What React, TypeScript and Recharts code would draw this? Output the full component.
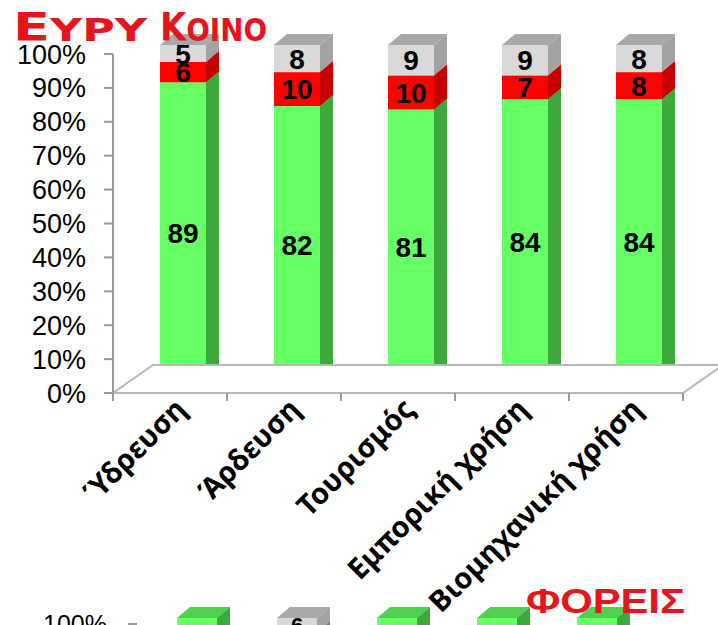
import { Bar, BarChart, LabelList, ReferenceLine, XAxis, YAxis } from 'recharts';

// Share of answers per water use, public survey (top chart)
const categories = ['Ύδρευση', 'Άρδευση', 'Τουρισμός', 'Εμπορική χρήση', 'Βιομηχανική χρήση'];
const greenVals = [89, 82, 81, 84, 84];
const redVals = [6, 10, 10, 7, 8];
const grayVals = [5, 8, 9, 9, 8];
const yTicks = [0, 10, 20, 30, 40, 50, 60, 70, 80, 90, 100];

// Second chart (organisations), cut off by the bottom edge: only the bar tops show
const greenVals2 = [100, 94, 100, 100, 100];
const redVals2 = [0, 0, 0, 0, 0];
const grayVals2 = [0, 6, 0, 0, 0];
const yTicks2 = [100];

const rows = categories.map((name, i) => ({
  name,
  green: greenVals[i],
  red: redVals[i],
  gray: grayVals[i],
}));
const rows2 = categories.map((name, i) => ({
  name,
  green: greenVals2[i],
  red: redVals2[i],
  gray: grayVals2[i],
}));

interface Face {
  front: string;
  side: string;
  top: string;
}
const GREEN: Face = { front: '#66ff66', side: '#3da93d', top: '#4fd14f' };
const RED: Face = { front: '#ff0000', side: '#c40000', top: '#e00000' };
const GRAY: Face = { front: '#d9d9d9', side: '#a3a3a3', top: '#a8a8a8' };

const AXIS = '#9a9a9a';
const W = 718;
const H = 625;

// chart 1 plot box
const LEFT = 113;
const RIGHT = 683;
const BAND = (RIGHT - LEFT) / categories.length;

// fake 3D box: front face shifted by (ox, oy), depth (dx, dy)
function box3d(c: Face, ox: number, oy: number, dx: number, dy: number) {
  return (p: any) => {
    const { x, y, width: w, height: h } = p;
    if (!h || h <= 0) return <g />;
    const fx = x + ox;
    const fy = y + oy;
    return (
      <g>
        <polygon
          points={`${fx},${fy} ${fx + dx},${fy - dy} ${fx + w + dx},${fy - dy} ${fx + w},${fy}`}
          fill={c.top}
        />
        <polygon
          points={`${fx + w},${fy} ${fx + w + dx},${fy - dy} ${fx + w + dx},${fy + h - dy} ${fx + w},${fy + h}`}
          fill={c.side}
        />
        <rect x={fx} y={fy} width={w} height={h} fill={c.front} />
      </g>
    );
  };
}

function valueLabel(ox: number, oy: number, size: number) {
  return (p: any) => {
    const { x, y, width, height, value } = p;
    if (!value) return null;
    return (
      <text
        x={x + ox + width / 2}
        y={y + oy + height / 2}
        dy="0.36em"
        textAnchor="middle"
        fontFamily="'Liberation Sans', Arial, sans-serif"
        fontWeight="bold"
        fontSize={size}
        fill="#000"
      >
        {value}
      </text>
    );
  };
}

function Floor(p: any) {
  const { x1, y1, x2, y2 } = p;
  return (
    <polygon
      points={`${x1},${y1} ${x2},${y2} ${x2 + 40},${y2 - 28} ${x1 + 40},${y1 - 28}`}
      fill="#ffffff"
      stroke="#b8b8b8"
      strokeWidth={2}
    />
  );
}

function CatTick(p: any) {
  const { x, y, payload, index } = p;
  return (
    <g>
      <line x1={x - BAND / 2} y1={y} x2={x - BAND / 2} y2={y + 8} stroke={AXIS} strokeWidth={2} />
      {index === categories.length - 1 && (
        <line x1={x + BAND / 2} y1={y} x2={x + BAND / 2} y2={y + 8} stroke={AXIS} strokeWidth={2} />
      )}
      <text
        transform={`translate(${x + 18},${y + 18}) rotate(-45)`}
        textAnchor="end"
        fontFamily="'Noto Sans', sans-serif"
        fontWeight={700}
        fontSize={29}
        fill="#000"
      >
        {payload.value}
      </text>
    </g>
  );
}

const pct = (v: number) => `${v}%`;

export default function App() {
  return (
    <div
      style={{
        position: 'absolute',
        left: 0,
        top: 0,
        width: W,
        height: H,
        overflow: 'hidden',
        background: '#fff',
      }}
    >
      {/* second chart, mostly below the picture */}
      <div style={{ position: 'absolute', left: 0, top: 560 }}>
        <BarChart
          width={W}
          height={300}
          data={rows2}
          margin={{ top: 64, right: 81, bottom: 0, left: 0 }}
          barSize={40}
        >
          <XAxis dataKey="name" hide />
          <YAxis
            domain={[0, 100]}
            ticks={yTicks2}
            width={137}
            tickFormatter={pct}
            tickSize={9}
            tickMargin={21}
            axisLine={false}
            tickLine={{ stroke: AXIS, strokeWidth: 2 }}
            tick={{ fontSize: 25, fill: '#000', fontFamily: "'Liberation Sans', Arial" }}
          />
          <Bar dataKey="green" stackId="s" isAnimationActive={false} shape={box3d(GREEN, 10, -6, 13, 11)} />
          <Bar dataKey="red" stackId="s" isAnimationActive={false} shape={box3d(RED, 10, -6, 13, 11)} />
          <Bar dataKey="gray" stackId="s" isAnimationActive={false} shape={box3d(GRAY, 10, -6, 13, 11)}>
            <LabelList dataKey="gray" content={valueLabel(10, -6, 22)} />
          </Bar>
        </BarChart>
        <svg
          width={W}
          height={70}
          style={{ position: 'absolute', left: 0, top: 0, overflow: 'visible' }}
        >
          <text
            x={526}
            y={53}
            textLength={159}
            lengthAdjust="spacingAndGlyphs"
            fontFamily="'Liberation Sans', Arial"
            fontWeight="bold"
            fontSize={35}
            fill="#e8141b"
          >
            ΦΟΡΕΙΣ
          </text>
        </svg>
      </div>

      {/* main chart */}
      <div style={{ position: 'absolute', left: 0, top: 0 }}>
        <BarChart
          width={W}
          height={H}
          data={rows}
          margin={{ top: 54, right: W - RIGHT, bottom: 0, left: 0 }}
          barSize={46}
        >
          <XAxis
            dataKey="name"
            height={232}
            interval={0}
            axisLine={false}
            tickLine={false}
            tickSize={0}
            tickMargin={0}
            tick={<CatTick />}
          />
          <YAxis
            domain={[0, 100]}
            ticks={yTicks}
            interval={0}
            width={LEFT}
            tickFormatter={pct}
            tickSize={9}
            tickMargin={18}
            axisLine={{ stroke: AXIS, strokeWidth: 2 }}
            tickLine={{ stroke: AXIS, strokeWidth: 2 }}
            tick={{ fontSize: 27, fill: '#000', fontFamily: "'Liberation Sans', Arial" }}
          />
          <ReferenceLine y={0} shape={<Floor />} />
          <Bar dataKey="green" stackId="s" isAnimationActive={false} shape={box3d(GREEN, 13, -9, 13, 11)}>
            <LabelList dataKey="green" content={valueLabel(13, -9, 28)} />
          </Bar>
          <Bar dataKey="red" stackId="s" isAnimationActive={false} shape={box3d(RED, 13, -9, 13, 11)}>
            <LabelList dataKey="red" content={valueLabel(13, -9, 28)} />
          </Bar>
          <Bar dataKey="gray" stackId="s" isAnimationActive={false} shape={box3d(GRAY, 13, -9, 13, 11)}>
            <LabelList dataKey="gray" content={valueLabel(13, -9, 28)} />
          </Bar>
        </BarChart>
      </div>

      {/* title */}
      <svg width={300} height={50} style={{ position: 'absolute', left: 0, top: 0 }}>
        <text
          x={13}
          y={41}
          textLength={134}
          lengthAdjust="spacingAndGlyphs"
          fontFamily="'DejaVu Sans', sans-serif"
          fontWeight="bold"
          fill="#e8141b"
        >
          <tspan fontSize={39}>Ε</tspan>
          <tspan fontSize={32}>ΥΡΥ</tspan>
        </text>
        <text
          x={160}
          y={41}
          textLength={107}
          lengthAdjust="spacingAndGlyphs"
          fontFamily="'DejaVu Sans', sans-serif"
          fontWeight="bold"
          fill="#e8141b"
        >
          <tspan fontSize={39}>Κ</tspan>
          <tspan fontSize={32}>ΟΙΝΟ</tspan>
        </text>
      </svg>
    </div>
  );
}
